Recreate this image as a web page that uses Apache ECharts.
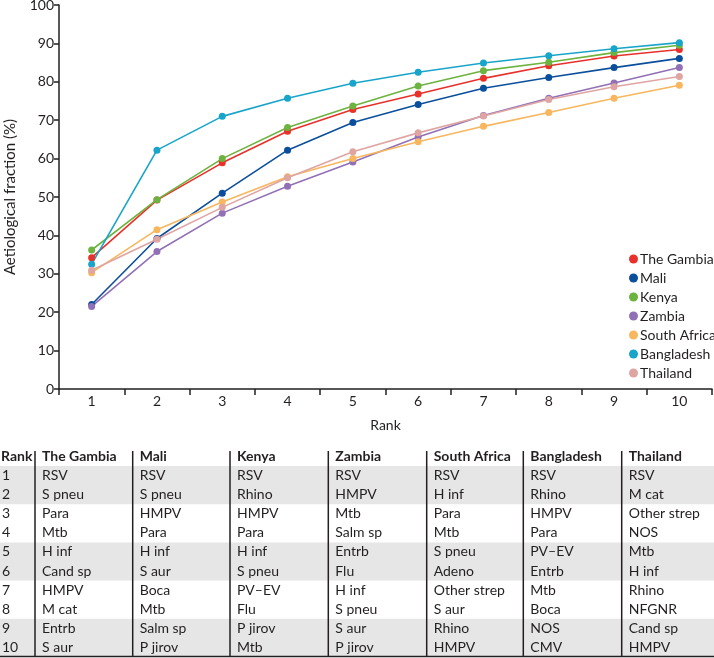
<!DOCTYPE html>
<html>
<head>
<meta charset="utf-8">
<script src="https://cdn.jsdelivr.net/npm/echarts@6/dist/echarts.min.js"></script>
<style>
html,body{margin:0;padding:0;background:#fff;}
#c{width:714px;height:658px;}
</style>
</head>
<body>
<div id="c"></div>
<script>
var ranks = ['1','2','3','4','5','6','7','8','9','10'];
var countries = ['The Gambia','Mali','Kenya','Zambia','South Africa','Bangladesh','Thailand'];
var colors = ['#e8312a','#0b4f9c','#6db33f','#9270b6','#f8b65e','#19a5c9','#dfa5a2'];

var gambia      = [34.2, 49.2, 58.9, 67.1, 72.8, 76.8, 80.9, 84.2, 86.7, 88.4];
var mali        = [22.0, 39.2, 51.0, 62.2, 69.4, 74.1, 78.3, 81.1, 83.7, 86.1];
var kenya       = [36.2, 49.3, 60.0, 68.1, 73.7, 78.9, 82.9, 85.1, 87.6, 89.5];
var zambia      = [21.5, 35.8, 45.8, 52.8, 59.1, 65.6, 71.2, 75.7, 79.7, 83.7];
var southAfrica = [30.3, 41.5, 48.7, 55.3, 60.0, 64.4, 68.4, 72.0, 75.7, 79.1];
var bangladesh  = [32.5, 62.2, 71.0, 75.7, 79.6, 82.5, 84.9, 86.8, 88.6, 90.2];
var thailand    = [30.9, 39.0, 47.3, 55.0, 61.8, 66.7, 71.1, 75.4, 78.7, 81.4];

var yTicks = [0,10,20,30,40,50,60,70,80,90,100];

var tableHeader = ['Rank','The Gambia','Mali','Kenya','Zambia','South Africa','Bangladesh','Thailand'];
var colGambia  = ['RSV','S pneu','Para','Mtb','H inf','Cand sp','HMPV','M cat','Entrb','S aur'];
var colMali    = ['RSV','S pneu','HMPV','Para','H inf','S aur','Boca','Mtb','Salm sp','P jirov'];
var colKenya   = ['RSV','Rhino','HMPV','Para','H inf','S pneu','PV\u2013EV','Flu','P jirov','Mtb'];
var colZambia  = ['RSV','HMPV','Mtb','Salm sp','Entrb','Flu','H inf','S pneu','S aur','P jirov'];
var colSAfrica = ['RSV','H inf','Para','Mtb','S pneu','Adeno','Other strep','S aur','Rhino','HMPV'];
var colBangla  = ['RSV','Rhino','HMPV','Para','PV\u2013EV','Entrb','Mtb','Boca','NOS','CMV'];
var colThai    = ['RSV','M cat','Other strep','NOS','Mtb','H inf','Rhino','NFGNR','Cand sp','HMPV'];

var seriesData = [gambia, mali, kenya, zambia, southAfrica, bangladesh, thailand];
var tableCols = [ranks, colGambia, colMali, colKenya, colZambia, colSAfrica, colBangla, colThai];

var FONT = 'Lato';
var TXT = '#231f20';

// table layout
var colX = [0, 35, 132.7, 230, 328.3, 426.7, 523.3, 621.7];
var headerY = 456.5;
var bodyTop = 466;
var rowH = 19.1;
var graphics = [];
[0, 4, 8].forEach(function (r) {
  graphics.push({type:'rect', silent:true, z:0,
    shape:{x:0, y:bodyTop + r*rowH, width:714, height:2*rowH},
    style:{fill:'#e6e6e6'}});
});
for (var i = 1; i < colX.length; i++) {
  graphics.push({type:'line', silent:true, z:2,
    shape:{x1:colX[i], y1:451, x2:colX[i], y2:bodyTop + 10*rowH},
    style:{stroke:'#231f20', lineWidth:1.5}});
}
graphics.push({type:'line', silent:true, z:2,
  shape:{x1:0, y1:bodyTop + 10*rowH - 0.5, x2:714, y2:bodyTop + 10*rowH - 0.5},
  style:{stroke:'#231f20', lineWidth:1.5}});
tableHeader.forEach(function (h, c) {
  graphics.push({type:'text', silent:true, z:3,
    style:{text:h, x: c === 0 ? 1 : colX[c] + 7, y: headerY, fill: TXT,
      font: 'bold 14px ' + FONT, textVerticalAlign:'middle', verticalAlign:'middle'}});
});
tableCols.forEach(function (col, c) {
  col.forEach(function (t, r) {
    graphics.push({type:'text', silent:true, z:3,
      style:{text:t, x: c === 0 ? 2 : colX[c] + 7, y: bodyTop + (r + 0.5)*rowH, fill: TXT,
        font: '14px ' + FONT, textVerticalAlign:'middle', verticalAlign:'middle'}});
  });
});

var chart = echarts.init(document.getElementById('c'), null, {renderer:'canvas'});
chart.setOption({
  animation:false,
  backgroundColor:'#fff',
  textStyle:{fontFamily:FONT},
  grid:{left:59, right:2, top:5, bottom:269, containLabel:false, outerBoundsMode:'none'},
  legend:{
    orient:'vertical', left:624, top:247, icon:'circle', itemWidth:9, itemHeight:9,
    itemGap:5, data:countries,
    textStyle:{fontSize:14, color:TXT, fontFamily:FONT, padding:[0,0,0,-3]}
  },
  xAxis:{
    type:'category', data:ranks, boundaryGap:true,
    axisLine:{lineStyle:{color:'#231f20', width:1.5}},
    axisTick:{show:true, length:6, lineStyle:{color:'#231f20', width:1.5}},
    axisLabel:{fontSize:14, color:TXT, margin:5, fontFamily:FONT},
    name:'Rank', nameLocation:'middle', nameGap:29,
    nameTextStyle:{fontSize:14, color:TXT, fontFamily:FONT}
  },
  yAxis:{
    type:'value', min:yTicks[0], max:yTicks[yTicks.length-1], interval:10,
    splitLine:{show:false},
    axisLine:{show:true, lineStyle:{color:'#231f20', width:1.5}},
    axisTick:{show:true, length:5, lineStyle:{color:'#231f20', width:1.5}},
    axisLabel:{fontSize:14, color:TXT, margin:5, fontFamily:FONT},
    name:'Aetiological fraction (%)', nameLocation:'middle', nameGap:41,
    nameTextStyle:{fontSize:15, color:TXT, fontFamily:FONT}
  },
  series: countries.map(function (name, i) {
    return {
      name:name, type:'line', data:seriesData[i], symbol:'circle', symbolSize:7,
      itemStyle:{color:colors[i]}, lineStyle:{color:colors[i], width:1.6}
    };
  }),
  graphic: graphics
});
</script>
</body>
</html>
